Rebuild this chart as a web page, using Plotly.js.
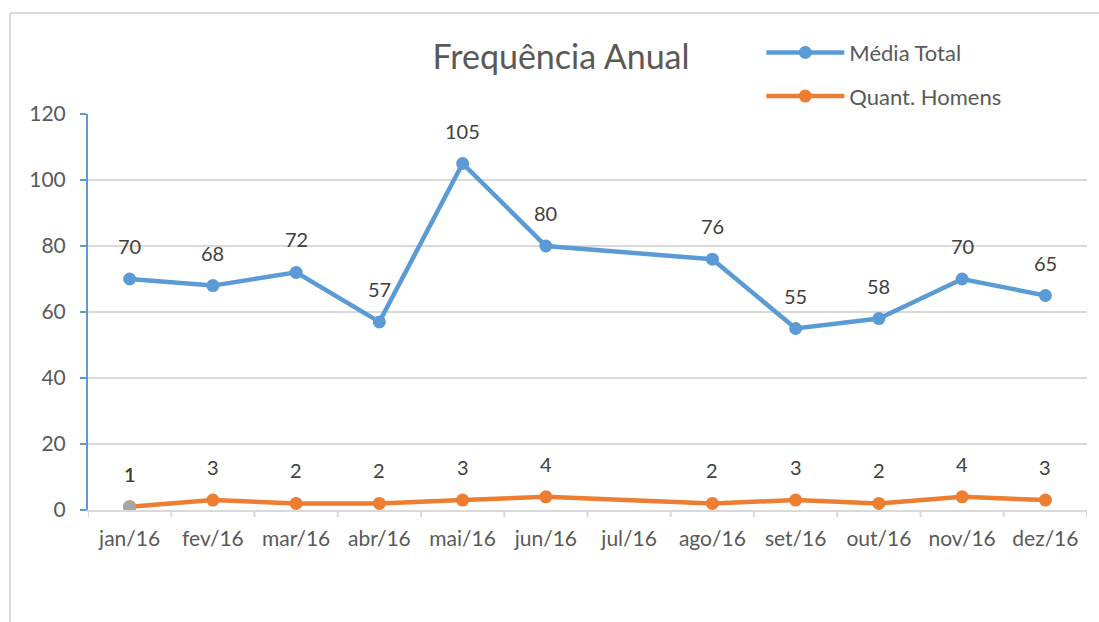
<!DOCTYPE html>
<html>
<head>
<meta charset="utf-8">
<script src="https://cdn.plot.ly/plotly-3.0.1.min.js"></script>
<style>
html,body{margin:0;padding:0;background:#fff;overflow:hidden;width:1099px;height:622px;}
#chart{position:absolute;left:0;top:0;width:1099px;height:622px;}
</style>
</head>
<body>
<div id="chart"></div>
<script>
const months = ['jan/16','fev/16','mar/16','abr/16','mai/16','jun/16','jul/16','ago/16','set/16','out/16','nov/16','dez/16'];
const mediaTotal = [70, 68, 72, 57, 105, 80, null, 76, 55, 58, 70, 65];
const quantHomens = [1, 3, 2, 2, 3, 4, null, 2, 3, 2, 4, 3];
const extraSeries = [1];           // third (grey) series: only jan/16
const seriesNames = ['Média Total', 'Quant. Homens'];

const FONT = 'Lato, "Open Sans", sans-serif';
const BLUE = '#5b9bd5', ORANGE = '#ed7d31', GREY = '#a5a5a5', AXIS_GREY = '#d9d9d9';

const traces = [
  {x: months, y: mediaTotal, name: seriesNames[0], type: 'scatter', mode: 'lines+markers',
   connectgaps: true, legendgroup: 'a',
   line: {color: BLUE, width: 4.5}, marker: {color: BLUE, size: 13}},
  {x: months, y: quantHomens, name: seriesNames[1], type: 'scatter', mode: 'lines+markers',
   connectgaps: true, legendgroup: 'b',
   line: {color: ORANGE, width: 4.5}, marker: {color: ORANGE, size: 13}},
  {x: months.slice(0, extraSeries.length), y: extraSeries, type: 'scatter', mode: 'markers', showlegend: false,
   marker: {color: GREY, size: 13}, hoverinfo: 'skip'}
];

const annotations = [];
function addLabels(xs, arr) {
  arr.forEach((v, i) => {
    if (v === null) return;
    annotations.push({x: xs[i], y: v, xref: 'x', yref: 'y', text: String(v), showarrow: false,
      yshift: 33, font: {family: FONT, size: 20, color: '#404040'}});
  });
}
addLabels(months, mediaTotal);
addLabels(months, quantHomens);
addLabels(months, extraSeries);

const W = 1099, H = 622, ML = 88, MR = 12, MT = 114, MB = 112;
const pw = W - ML - MR, ph = H - MT - MB;
const fx = (px) => (px - ML) / pw;
const fy = (py) => (H - MB - py) / ph;
const frameLine = {color: AXIS_GREY, width: 2};
const shapes = [
  {type: 'line', xref: 'paper', yref: 'paper', x0: fx(10), x1: fx(1110), y0: fy(13), y1: fy(13), line: frameLine},
  {type: 'line', xref: 'paper', yref: 'paper', x0: fx(10), x1: fx(10), y0: fy(13), y1: fy(640), line: frameLine}
];
// category-boundary tick marks below the x axis
for (let i = 0; i <= months.length; i++) {
  shapes.push({type: 'line', xref: 'x', yref: 'paper', x0: i - 0.5, x1: i - 0.5, y0: 0, y1: -7 / ph,
    line: {color: AXIS_GREY, width: 2}});
}

const layout = {
  width: W, height: H,
  margin: {l: ML, r: MR, t: MT, b: MB},
  paper_bgcolor: '#ffffff', plot_bgcolor: 'rgba(0,0,0,0)',
  font: {family: FONT, color: '#595959'},
  title: {text: 'Frequência Anual', font: {family: FONT, size: 34, color: '#595959'},
    xref: 'paper', x: 0.4735, xanchor: 'center', yref: 'container', y: 0.908, yanchor: 'middle'},
  showlegend: true,
  legend: {x: 0.674, xanchor: 'left', y: 1.208, yanchor: 'top', yref: 'paper',
    font: {family: FONT, size: 22, color: '#595959'}, tracegroupgap: 12, itemwidth: 78,
    bgcolor: 'rgba(0,0,0,0)'},
  xaxis: {type: 'category', range: [-0.5, 11.5], showline: true, linecolor: AXIS_GREY, linewidth: 2,
    showgrid: false, ticks: '',
    tickfont: {family: FONT, size: 21, color: '#595959'}, ticklabelstandoff: 9, zeroline: false},
  yaxis: {range: [0, 120], dtick: 20, showline: true, linecolor: BLUE, linewidth: 2,
    ticks: 'outside', ticklen: 6, tickcolor: BLUE, tickwidth: 2,
    showgrid: true, gridcolor: AXIS_GREY, gridwidth: 2, zeroline: false,
    tickfont: {family: FONT, size: 21, color: '#595959'}, ticklabelstandoff: 10},
  shapes: shapes,
  annotations: annotations
};

Plotly.newPlot('chart', traces, layout, {displayModeBar: false, staticPlot: true});
</script>
</body>
</html>
